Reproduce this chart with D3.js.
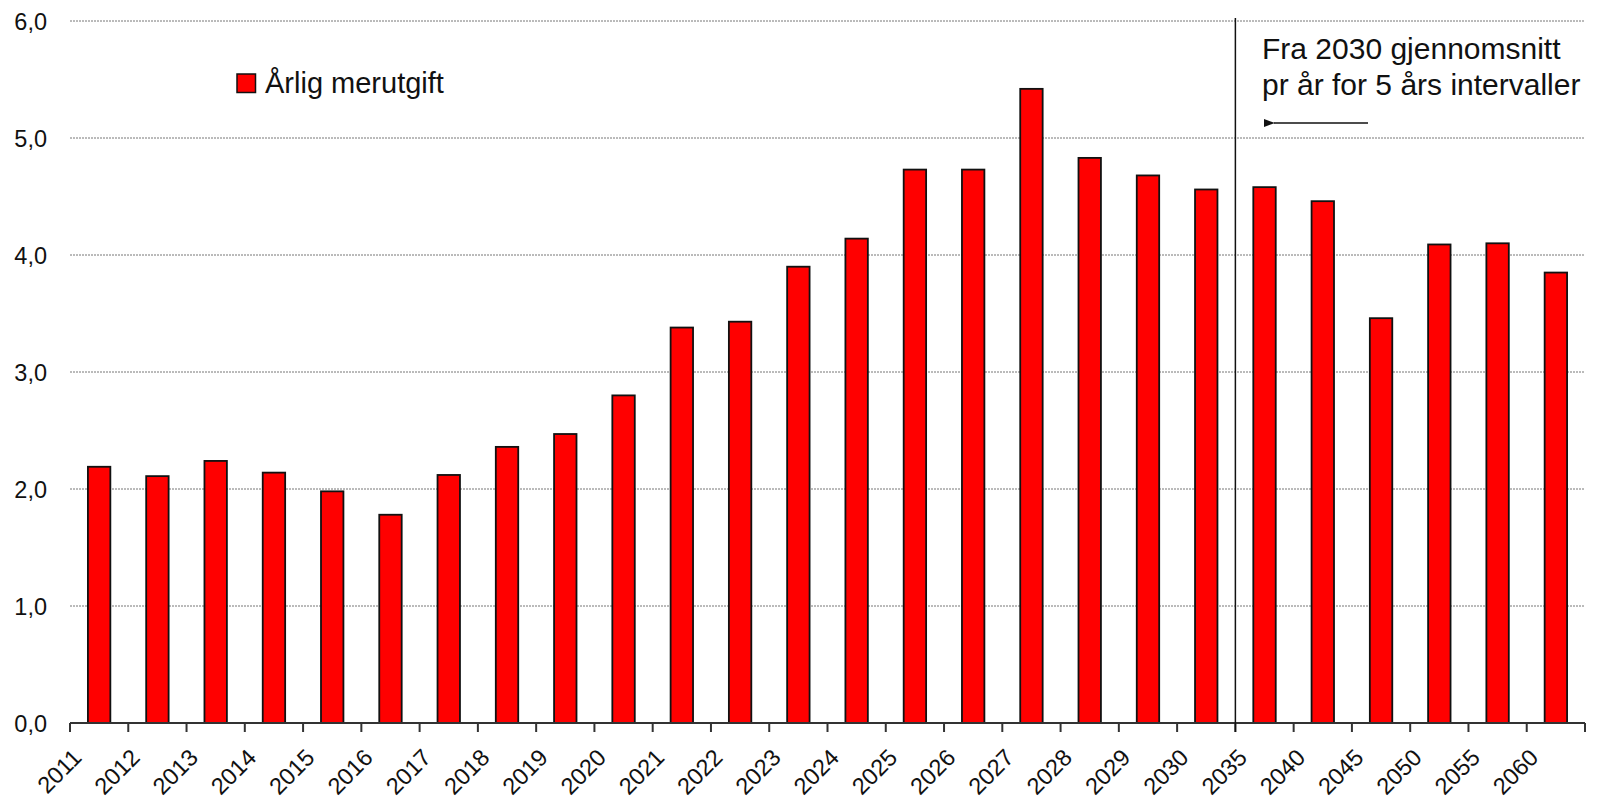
<!DOCTYPE html>
<meta charset="utf-8">
<style>
  body { margin: 0; background: #fff; }
  svg { font-family: "Liberation Sans", Arial, sans-serif; }
</style>
<body>
  <div id="graph"></div>
  <script src="https://d3js.org/d3.v7.min.js"></script>
  <script>
    // categories: yearly to 2030, then 5-year averages
    var years = ["2011", "2012", "2013", "2014", "2015", "2016", "2017", "2018", "2019", "2020",
      "2021", "2022", "2023", "2024", "2025", "2026", "2027", "2028", "2029", "2030",
      "2035", "2040", "2045", "2050", "2055", "2060"];
    var merutgift = [2.19, 2.11, 2.24, 2.14, 1.98, 1.78, 2.12, 2.36, 2.47, 2.80,
      3.38, 3.43, 3.90, 4.14, 4.73, 4.73, 5.42, 4.83, 4.68, 4.56,
      4.58, 4.46, 3.46, 4.09, 4.10, 3.85];
    var yTicks = [0, 1, 2, 3, 4, 5, 6];
    var legendLabel = "Årlig merutgift";
    var noteLines = ["Fra 2030 gjennomsnitt", "pr år for 5 års intervaller"];
    var splitAt = "2035";

    var data = years.map(function(y, i) {
      return { year: y, val: merutgift[i] };
    });

    var width = 1603,
      height = 801;
    var plotLeft = 70,
      plotRight = 1585,
      plotTop = 21,
      plotBottom = 723;

    var svg = d3.select("#graph")
      .append("svg")
      .attr("width", width)
      .attr("height", height);

    var x = d3.scaleBand()
      .domain(years)
      .range([plotLeft, plotRight])
      .padding(0);

    var y = d3.scaleLinear()
      .domain([0, 6])
      .range([plotBottom, plotTop]);

    var fmt = function(d) {
      return d3.format(".1f")(d).replace(".", ",");
    };

    // gridlines
    svg.append("g")
      .selectAll("line")
      .data(yTicks.filter(function(d) { return d > 0; }))
      .enter().append("line")
      .attr("x1", plotLeft)
      .attr("x2", plotRight)
      .attr("y1", function(d) { return y(d); })
      .attr("y2", function(d) { return y(d); })
      .attr("stroke", "#777")
      .attr("stroke-width", 1)
      .attr("stroke-dasharray", "2,1");

    // y labels
    svg.append("g")
      .selectAll("text")
      .data(yTicks)
      .enter().append("text")
      .attr("x", 47)
      .attr("y", function(d) { return y(d) + 8.5; })
      .attr("text-anchor", "end")
      .attr("font-size", 23.5)
      .attr("fill", "#111")
      .text(fmt);

    // bars
    var bw = x.bandwidth() * 0.385;
    svg.append("g")
      .selectAll(".bar")
      .data(data)
      .enter().append("rect")
      .attr("class", "bar")
      .attr("x", function(d) { return x(d.year) + x.bandwidth() / 2 - bw / 2; })
      .attr("width", bw)
      .attr("y", function(d) { return y(d.val); })
      .attr("height", function(d) { return y(0) - y(d.val); })
      .attr("fill", "#ff0000")
      .attr("stroke", "#111")
      .attr("stroke-width", 1.8);

    // x axis
    var xa = svg.append("g");
    xa.append("line")
      .attr("x1", plotLeft)
      .attr("x2", plotRight)
      .attr("y1", plotBottom)
      .attr("y2", plotBottom)
      .attr("stroke", "#333")
      .attr("stroke-width", 2);

    var tickPos = years.map(function(d) { return x(d); }).concat([plotRight]);
    xa.selectAll(".tick")
      .data(tickPos)
      .enter().append("line")
      .attr("x1", function(d) { return d; })
      .attr("x2", function(d) { return d; })
      .attr("y1", plotBottom)
      .attr("y2", plotBottom + 9)
      .attr("stroke", "#333")
      .attr("stroke-width", 2);

    xa.selectAll("text")
      .data(years)
      .enter().append("text")
      .attr("transform", function(d) {
        return "translate(" + (x(d) + 13) + "," + (plotBottom + 36) + ") rotate(-45)";
      })
      .attr("text-anchor", "end")
      .attr("font-size", 23.5)
      .attr("fill", "#111")
      .text(function(d) { return d; });

    // separator line at 2035
    svg.append("line")
      .attr("x1", x(splitAt))
      .attr("x2", x(splitAt))
      .attr("y1", 18)
      .attr("y2", plotBottom + 9)
      .attr("stroke", "#111")
      .attr("stroke-width", 1.5);

    // annotation
    svg.append("g")
      .selectAll("text")
      .data(noteLines)
      .enter().append("text")
      .attr("x", 1262)
      .attr("y", function(d, i) { return 59 + i * 36; })
      .attr("font-size", 30)
      .attr("fill", "#111")
      .text(function(d) { return d; });

    svg.append("defs").append("marker")
      .attr("id", "arrow")
      .attr("viewBox", "0 0 10 10")
      .attr("refX", 1)
      .attr("refY", 5)
      .attr("markerWidth", 7)
      .attr("markerHeight", 7)
      .attr("orient", "auto")
      .append("path")
      .attr("d", "M10,1.5 L0,5 L10,8.5 Z")
      .attr("fill", "#111");

    svg.append("line")
      .attr("x1", 1368)
      .attr("x2", 1274)
      .attr("y1", 123)
      .attr("y2", 123)
      .attr("stroke", "#111")
      .attr("stroke-width", 1.6)
      .attr("marker-end", "url(#arrow)");

    // legend
    var lg = svg.append("g");
    lg.append("rect")
      .attr("x", 237)
      .attr("y", 74)
      .attr("width", 18.5)
      .attr("height", 18.5)
      .attr("fill", "#ff0000")
      .attr("stroke", "#111")
      .attr("stroke-width", 1.5);
    lg.append("text")
      .attr("x", 265)
      .attr("y", 93)
      .attr("font-size", 29)
      .attr("fill", "#111")
      .text(legendLabel);
  </script>
</body>
